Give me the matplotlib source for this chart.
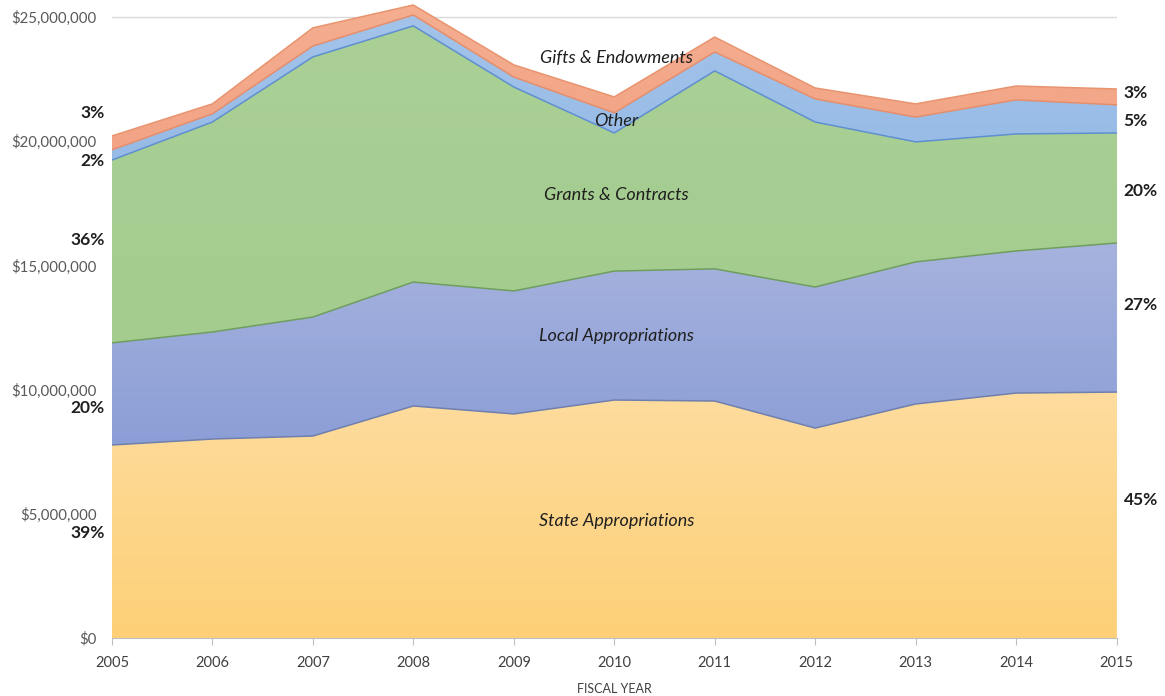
import numpy as np
import matplotlib
matplotlib.use("Agg")
import matplotlib.pyplot as plt
from matplotlib.colors import LinearSegmentedColormap
from matplotlib.ticker import FuncFormatter
import matplotlib.transforms as mtransforms

plt.rcParams['font.family'] = ['Lato', 'DejaVu Sans']

years = [2005, 2006, 2007, 2008, 2009, 2010, 2011, 2012, 2013, 2014, 2015]

# revenue by source, in millions of dollars
state = [7.77, 8.01, 8.13, 9.34, 9.02, 9.58, 9.54, 8.45, 9.42, 9.86, 9.90]
local = [4.11, 4.31, 4.79, 4.99, 4.95, 5.19, 5.32, 5.68, 5.72, 5.72, 6.00]
grants = [7.36, 8.45, 10.47, 10.31, 8.21, 5.56, 7.97, 6.64, 4.83, 4.71, 4.43]
other = [0.41, 0.33, 0.44, 0.44, 0.40, 0.81, 0.76, 0.93, 1.00, 1.37, 1.13]
gifts = [0.56, 0.40, 0.73, 0.40, 0.49, 0.64, 0.60, 0.44, 0.53, 0.56, 0.64]

seriesNames = ["State Appropriations", "Local Appropriations", "Grants & Contracts",
               "Other", "Gifts & Endowments"]
pct2005 = ["39%", "20%", "36%", "2%", "3%"]
pct2015 = ["45%", "27%", "20%", "5%", "3%"]

# gradient colours (top, bottom) and top edge colour per series
fillTop = ['#fedc9e', '#a7b3de', '#aad096', '#a3c3ea', '#f5ae90']
fillBot = ['#fdd077', '#8b9ed6', '#a4cc8e', '#97bbe6', '#f2a385']
edgeCol = ['#6f7fae', '#6e9e5e', '#5f8fd0', '#e58e6c', '#e8946f']

# label positions (in millions), chosen by eye
nameY = [4.71, 12.16, 17.83, 20.81, 23.35]
leftY = [4.23, 9.26, 16.02, 19.2, 21.14]
rightY = [5.56, 13.41, 18.0, 20.81, 21.94]

fig = plt.figure(figsize=(11.65, 6.96), dpi=100)
ax = fig.add_axes([0.0961, 0.0833, 0.8623, 0.9138])

x = np.array(years)
allSeries = [state, local, grants, other, gifts]
bottom = np.zeros(len(years))
for i, s in enumerate(allSeries):
    top = bottom + np.array(s) * 1e6
    poly = ax.fill_between(x, bottom, top, color=fillTop[i], lw=0, zorder=2)
    cmap = LinearSegmentedColormap.from_list("g%d" % i, [fillBot[i], fillTop[i]])
    grad = np.linspace(0, 1, 256).reshape(-1, 1)
    im = ax.imshow(grad, extent=[years[0], years[-1], bottom.min(), top.max()],
                   origin='lower', aspect='auto', cmap=cmap, zorder=2.1)
    im.set_clip_path(poly.get_paths()[0], transform=ax.transData)
    ax.plot(x, top, color=edgeCol[i], lw=1.1, zorder=3)
    bottom = top

ax.set_xlim(2005, 2015)
ax.set_ylim(0, 25.6e6)
ax.set_yticks(np.arange(0, 25e6 + 1, 5e6))
ax.yaxis.set_major_formatter(FuncFormatter(lambda v, p: "${:,.0f}".format(v)))
ax.set_xticks(years)
ax.grid(axis='y', color='#d9d9d9', lw=1, zorder=0)
ax.set_axisbelow(True)

for sp in ['top', 'right', 'left']:
    ax.spines[sp].set_visible(False)
ax.spines['bottom'].set_color('#bfbfbf')
ax.spines['bottom'].set_zorder(4)
ax.tick_params(axis='y', length=0, labelsize=10.8, labelcolor='#595959', pad=11)
ax.tick_params(axis='x', length=5, color='#bfbfbf', labelsize=10.5, labelcolor='#404040', pad=8)
ax.set_xlabel("FISCAL YEAR", fontsize=9, color='#404040', labelpad=9)

for i in range(len(seriesNames)):
    ax.text(2010.02, nameY[i] * 1e6, seriesNames[i], style='italic', fontsize=13,
            color='#1f1f1f', ha='center', va='center', zorder=5)

trans = mtransforms.blended_transform_factory(ax.transAxes, ax.transData)
for i in range(len(pct2005)):
    ax.text(-0.007, leftY[i] * 1e6, pct2005[i], transform=trans, fontsize=12.5,
            fontweight='bold', color='#1f1f1f', ha='right', va='center', clip_on=False)
    ax.text(1.007, rightY[i] * 1e6, pct2015[i], transform=trans, fontsize=12.5,
            fontweight='bold', color='#1f1f1f', ha='left', va='center', clip_on=False)

fig.savefig("out.png", dpi=100)
